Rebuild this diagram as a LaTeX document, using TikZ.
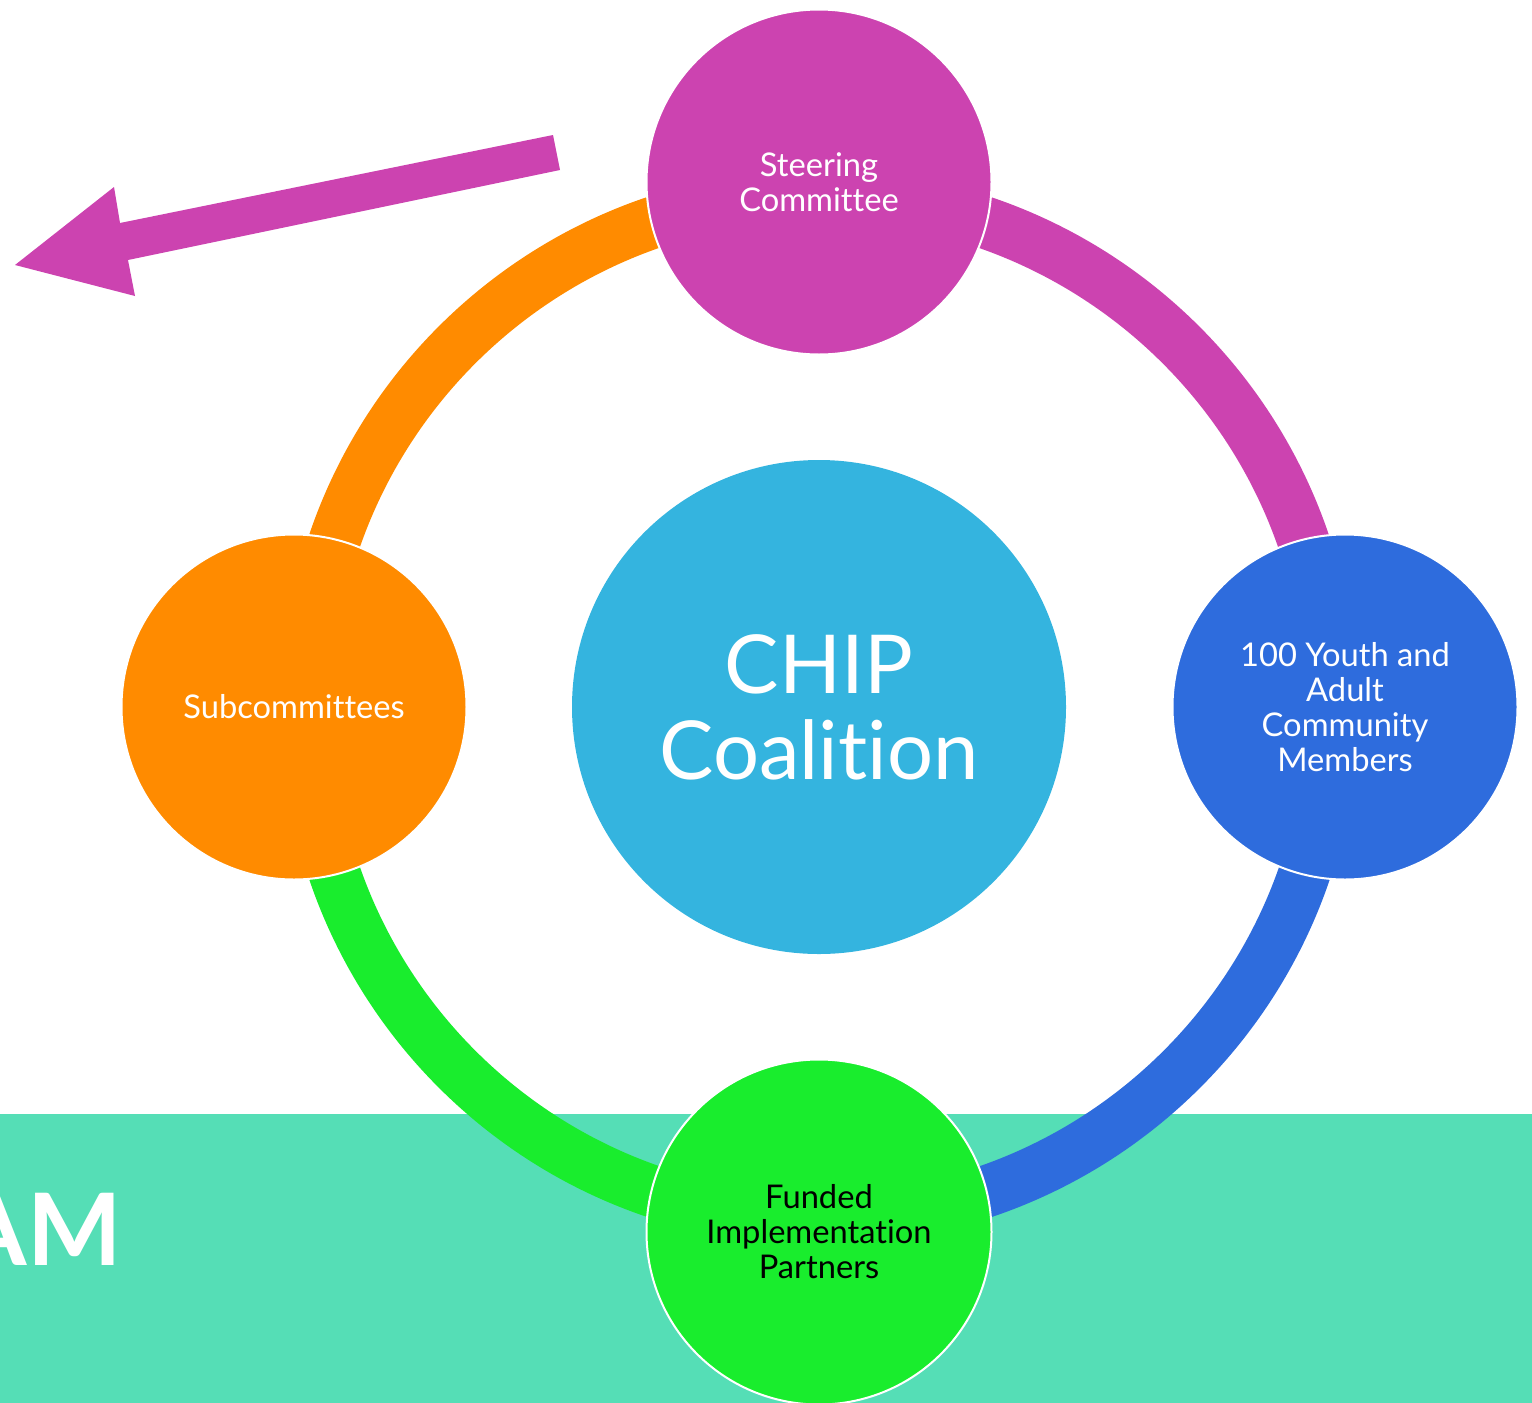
\documentclass[tikz,border=0pt]{standalone}
\usepackage{fontspec}
\setmainfont{Lato}[Ligatures={NoCommon,NoRare}]
\usepackage{tikz}
\usetikzlibrary{calc,backgrounds}

\begin{document}
\begin{tikzpicture}[x=0.75pt,y=0.75pt,yscale=-1,xscale=1,
  hubc/.style={fill={rgb, 255:red, 52; green, 180; blue, 223 }},
  part/.style={circle,draw={rgb, 255:red, 255; green, 255; blue, 255 },line width=1.5pt,
    minimum size=258.75pt,inner sep=0pt,align=center,text=white,
    font=\fontsize{24.5}{26.25}\selectfont},
  ring/.style={line width=39pt},
  steerc/.style={fill={rgb, 255:red, 204; green, 67; blue, 176 }},
  subcc/.style={fill={rgb, 255:red, 255; green, 139; blue, 0 }},
  youthc/.style={fill={rgb, 255:red, 46; green, 108; blue, 221 }},
  fundc/.style={fill={rgb, 255:red, 25; green, 237; blue, 45 }}
  ]
\path[use as bounding box] (0,0) rectangle (1532,1403);
\clip (0,0) rectangle (1532,1403);

%Shape: Band
\begin{scope}[on background layer]
\fill [fill={rgb, 255:red, 85; green, 222; blue, 182 }] (0,1114) rectangle (1532,1403);
% Text Node
\node [anchor=base east,inner sep=0pt,text=white,font=\bfseries\fontsize{75}{75}\selectfont] (teamlbl) at (122,1265) {AM};
\end{scope}

%Shape: Arrow
\coordinate (arrtail) at (556,152);
\coordinate (arrtip) at (15,265);
\fill [steerc] (553,135) -- (560,170) -- (128,260) -- (135,296) -- (arrtip) -- (114,187) -- (120,223) -- cycle;

% Circles
\node [circle,hubc,minimum size=370.5pt,inner sep=0pt,align=center,text=white,font=\fontsize{61}{64.5}\selectfont] (hub) at (819,707) {CHIP\\Coalition};
\node [part,steerc] (steer) at (819,182) {Steering\\Committee};
\node [part,youthc] (youth) at (1345,707) {100 Youth and\\Adult\\Community\\Members};
\node [part,fundc,text=black] (fund) at (819,1232) {Funded\\Implementation\\Partners};
\node [part,subcc] (subc) at (294,707) {Subcommittees};

% Ring
\begin{scope}[on background layer]
\draw [ring,draw={rgb, 255:red, 204; green, 67; blue, 176 }] ($(steer.center)!9.75pt!(hub.center)$) arc [start angle=-90,end angle=0,radius=512];
\draw [ring,draw={rgb, 255:red, 46; green, 108; blue, 221 }] ($(youth.center)!9.75pt!(hub.center)$) arc [start angle=0,end angle=90,radius=512];
\draw [ring,draw={rgb, 255:red, 25; green, 237; blue, 45 }] ($(fund.center)!9.75pt!(hub.center)$) arc [start angle=90,end angle=180,radius=512];
\draw [ring,draw={rgb, 255:red, 255; green, 139; blue, 0 }] ($(subc.center)!9.75pt!(hub.center)$) arc [start angle=180,end angle=270,radius=512];
\end{scope}
\end{tikzpicture}
\end{document}
